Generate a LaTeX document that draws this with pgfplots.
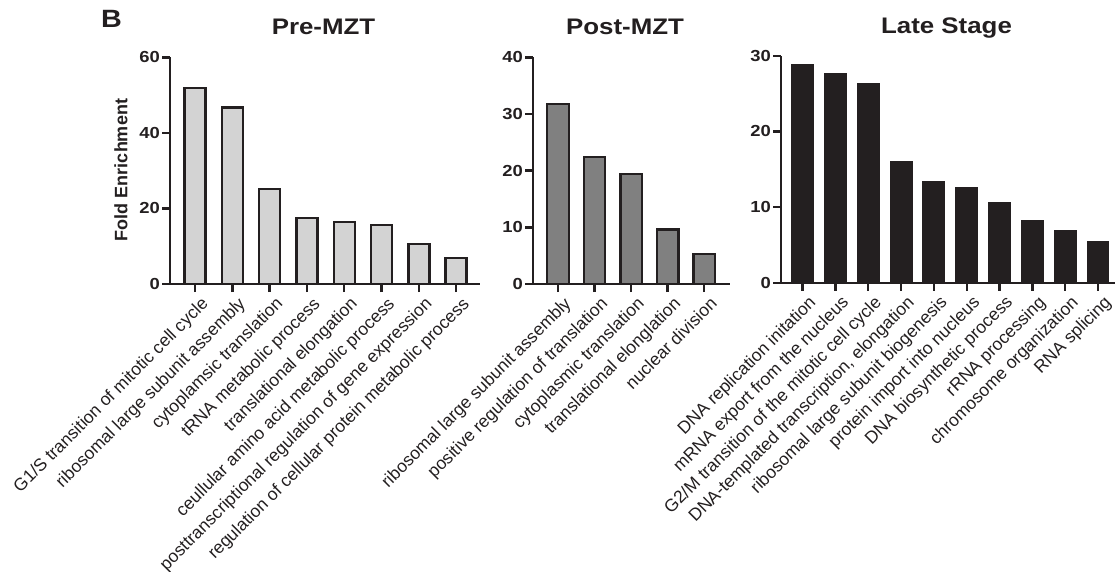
\documentclass[border=0pt]{standalone}
\usepackage{pgfplots}
\pgfplotsset{compat=1.18}
\usepackage{fontspec}
\setmainfont{Liberation Sans}
\newfontfamily\widesans[FakeStretch=1.15]{Liberation Sans}

\definecolor{ink}{HTML}{231F20}
\definecolor{preFill}{HTML}{D3D3D3}
\definecolor{postFill}{HTML}{808080}
\definecolor{lateFill}{HTML}{231F20}

\pgfplotsset{
  goaxis/.style={
    scale only axis, anchor=south west,
    axis x line*=bottom, axis y line*=left,
    axis line style={line width=2.4pt, ink},
    ymin=0,
    tick align=outside, major tick length=8pt,
    tick style={line width=2.4pt, ink},
    yticklabel style={font=\widesans\bfseries\fontsize{16}{16}\selectfont, text=ink, inner sep=2pt},
    xticklabel style={rotate=45, anchor=north east, font=\fontsize{17.5}{17.5}\selectfont,
      text=ink, inner sep=1pt, yshift=-5pt, xshift=2pt},
    /pgf/number format/assume math mode=true,
    clip=false,
    ybar,
  },
  gobar/.style={draw=ink, line width=2.4pt, fill=#1, line join=miter},
}

\begin{document}
\begin{tikzpicture}
\useasboundingbox (0,0) rectangle (1115pt,571pt);

% panel letter and titles
\node[anchor=base west, font=\widesans\bfseries\fontsize{25}{25}\selectfont, text=ink, inner sep=0pt] at (101pt,543pt) {B};
\node[anchor=base, font=\widesans\bfseries\fontsize{22.5}{22.5}\selectfont, text=ink] at (323.5pt,536pt) {Pre-MZT};
\node[anchor=base, font=\widesans\bfseries\fontsize{22.5}{22.5}\selectfont, text=ink] at (625pt,536pt) {Post-MZT};
\node[anchor=base, font=\widesans\bfseries\fontsize{22.5}{22.5}\selectfont, text=ink] at (946.5pt,537pt) {Late Stage};
\node[rotate=90, font=\bfseries\fontsize{18}{18}\selectfont, text=ink] at (121pt,401pt) {Fold Enrichment};

% Pre-MZT
\begin{axis}[goaxis, at={(170pt,287pt)}, width=310pt, height=226.7pt,
  xmin=-0.67, xmax=7.64, ymax=60, ytick={0,20,40,60}, bar width=21pt,
  xtick={0,...,7},
  xticklabels={G1/S transition of mitotic cell cycle, ribosomal large subunit assembly,
    cytoplamsic translation, tRNA metabolic process, translational elongation,
    ceullular amino acid metabolic process, posttranscriptional regulation of gene expression,
    regulation of cellular protein metabolic process}]
\addplot[gobar=preFill] coordinates {(0,51.8) (1,46.7) (2,25.1) (3,17.4) (4,16.4) (5,15.6) (6,10.6) (7,6.9)};
\end{axis}

% Post-MZT
\begin{axis}[goaxis, at={(533pt,287pt)}, width=197pt, height=226.7pt,
  xmin=-0.685, xmax=4.71, ymax=40, ytick={0,10,20,30,40}, bar width=21.5pt,
  xtick={0,...,4},
  xticklabels={ribosomal large subunit assembly, positive regulation of translation,
    cytoplasmic translation, translational elonglation, nuclear division}]
\addplot[gobar=postFill] coordinates {(0,31.8) (1,22.4) (2,19.4) (3,9.6) (4,5.3)};
\end{axis}

% Late Stage
\begin{axis}[goaxis, at={(781pt,288.3pt)}, width=334pt, height=227pt,
  xmin=-0.66, xmax=9.52, ymax=30, ytick={0,10,20,30}, bar width=20.5pt,
  xtick={0,...,9},
  xticklabels={DNA replication initation, mRNA export from the nucleus,
    G2/M transition of the mitotic cell cycle, {DNA-templated transcription, elongation},
    ribosomal large subunit biogenesis, protein import into nucleus,
    DNA biosynthetic process, rRNA processing, chromosome organization, RNA splicing}]
\addplot[gobar=lateFill] coordinates {(0,28.7) (1,27.6) (2,26.2) (3,15.9) (4,13.3) (5,12.5) (6,10.5) (7,8.1) (8,6.8) (9,5.3)};
\end{axis}
\end{tikzpicture}
\end{document}
